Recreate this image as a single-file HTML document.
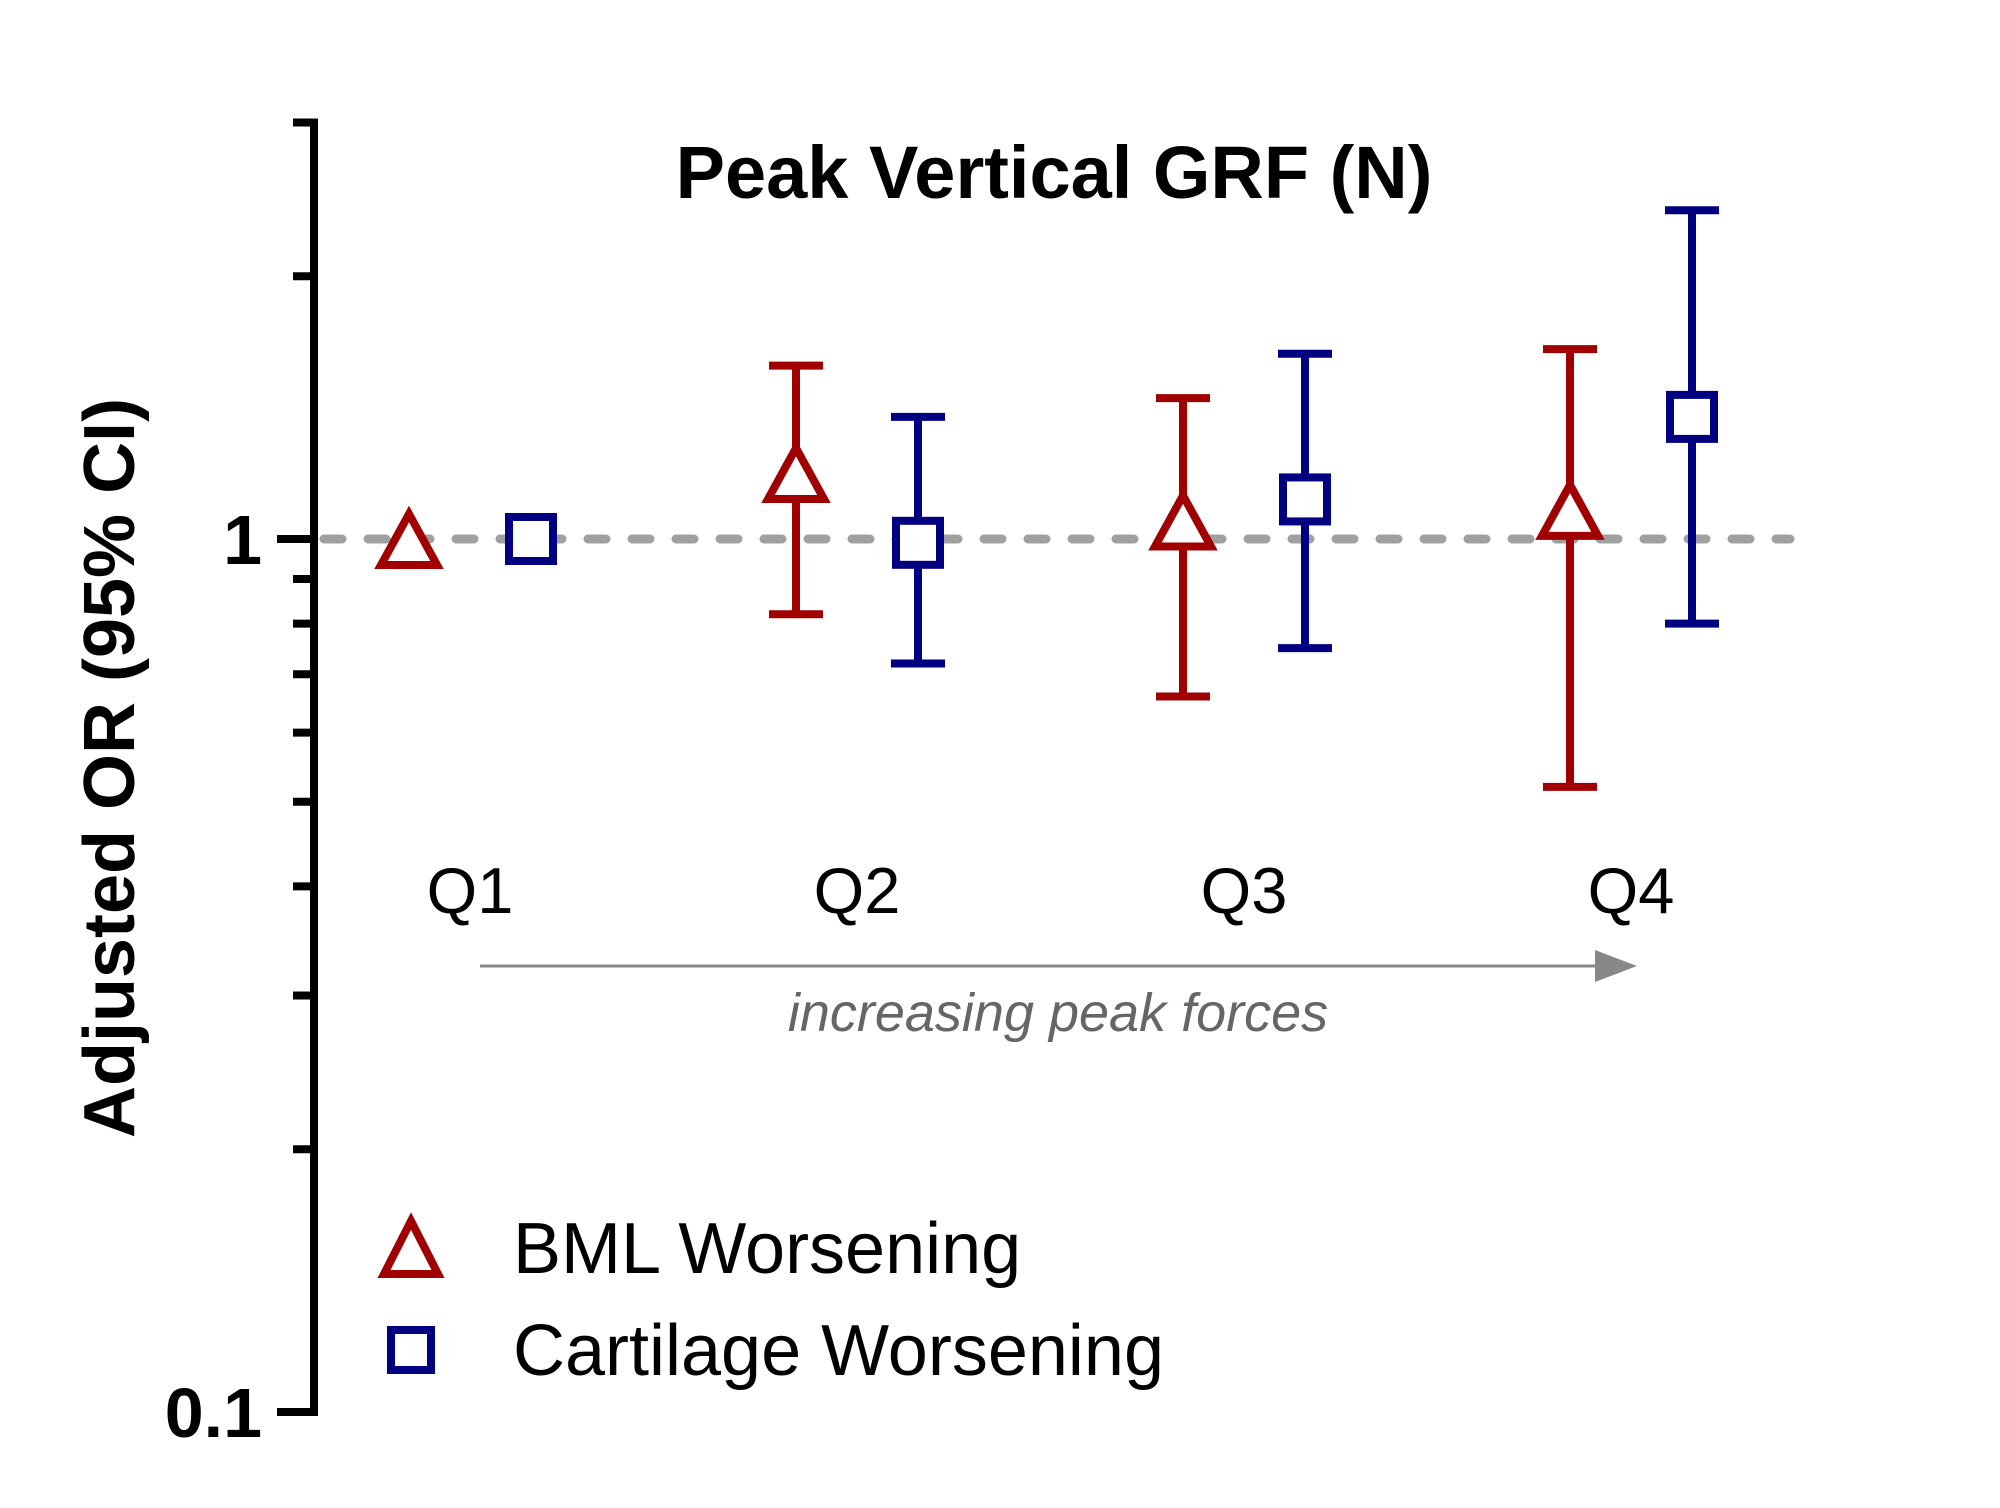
<!DOCTYPE html>
<html><head><meta charset="utf-8"><style>
html,body{margin:0;padding:0;background:#fff;}
svg{display:block;}
text{font-family:"Liberation Sans",Arial,sans-serif;}
</style></head><body>
<svg id="chart" width="2000" height="1508" viewBox="0 0 2000 1508" xmlns="http://www.w3.org/2000/svg">
<text x="1054" y="198" font-size="74" font-weight="bold" text-anchor="middle">Peak Vertical GRF (N)</text>
<text transform="translate(134,768) rotate(-90)" font-size="72" font-weight="bold" text-anchor="middle">Adjusted OR (95% CI)</text>
<g id="axis"></g>
<g id="marks"></g>
<line x1="480" y1="966" x2="1600" y2="966" stroke="#888" stroke-width="3"/>
<polygon points="1595,950 1637,966 1595,982" fill="#888"/>
<text x="1058" y="1031" font-size="54" font-style="italic" fill="#666" text-anchor="middle">increasing peak forces</text>
<g>
  <polygon points="411,1221 438,1274 384,1274" fill="#fff" stroke="#a00000" stroke-width="8"/>
  <text x="513" y="1273" font-size="72">BML Worsening</text>
  <rect x="391" y="1330" width="40" height="40" fill="#fff" stroke="#000080" stroke-width="8"/>
  <text x="513" y="1375" font-size="72">Cartilage Worsening</text>
</g>
</svg>
<script>
const categories = ["Q1","Q2","Q3","Q4"];
const bmlOR = [1.0, 1.19, 1.05, 1.08];
const bmlLow = [null, 0.82, 0.66, 0.52];
const bmlHigh = [null, 1.58, 1.45, 1.65];
const cartOR = [1.0, 0.99, 1.11, 1.38];
const cartLow = [null, 0.72, 0.75, 0.80];
const cartHigh = [null, 1.38, 1.63, 2.38];
const majorTicks = [0.1, 1];
const majorLabels = ["0.1","1"];
const minorTicks = [0.2,0.3,0.4,0.5,0.6,0.7,0.8,0.9,2,3];

const NS = "http://www.w3.org/2000/svg";
const y = v => 539 - 873 * Math.log10(v);
const xCenter = i => 470 + 387 * i;
const axisX = 314;
function mk(tag, attrs, parent){const e=document.createElementNS(NS,tag);for(const k in attrs)e.setAttribute(k,attrs[k]);parent.appendChild(e);return e;}
const axis = document.getElementById('axis');
const marks = document.getElementById('marks');

let ref = mk('line',{x1:axisX+10,y1:y(1),x2:1790,y2:y(1),stroke:'#a0a0a0','stroke-width':9,'stroke-dasharray':'18 26','stroke-linecap':'round'},marks);



let al = mk('line',{x1:axisX,y1:y(3)-4,x2:axisX,y2:y(0.1)+4,stroke:'#000','stroke-width':8},axis);


majorTicks.forEach((v,i)=>{
  const t = mk('line',{x1:277,y1:y(v),x2:axisX,y2:y(v),stroke:'#000','stroke-width':8},axis);
  
  
  const l = mk('text',{x:262,y:y(v)+25,'font-size':70,'font-weight':'bold','text-anchor':'end'},axis);
  l.textContent = majorLabels[i];
  
  
});
minorTicks.forEach(v=>{
  const t = mk('line',{x1:293,y1:y(v),x2:axisX,y2:y(v),stroke:'#000','stroke-width':8},axis);
  
  
});

function errBar(x, lo, hi, color){
  const g = mk('g',{},marks);
  
  
  mk('line',{x1:x,y1:y(hi),x2:x,y2:y(lo),stroke:color,'stroke-width':8},g);
  mk('line',{x1:x-27,y1:y(hi),x2:x+27,y2:y(hi),stroke:color,'stroke-width':8},g);
  mk('line',{x1:x-27,y1:y(lo),x2:x+27,y2:y(lo),stroke:color,'stroke-width':8},g);
}
categories.forEach((c,i)=>{
  const xr = xCenter(i) - 61, xb = xCenter(i) + 61;
  if (bmlLow[i] !== null) errBar(xr, bmlLow[i], bmlHigh[i], '#a00000');
  if (cartLow[i] !== null) errBar(xb, cartLow[i], cartHigh[i], '#000080');
  const yr = y(bmlOR[i]);
  const tri = mk('polygon',{points:`${xr},${yr-25} ${xr+28},${yr+26} ${xr-28},${yr+26}`,fill:'#fff',stroke:'#a00000','stroke-width':8,'stroke-linejoin':'miter'},marks);
  
  
  const yb = y(cartOR[i]);
  const sq = mk('rect',{x:xb-22,y:yb-22,width:44,height:44,fill:'#fff',stroke:'#000080','stroke-width':8},marks);
  
  
  const lab = mk('text',{x:xCenter(i),y:913,'font-size':65,'text-anchor':'middle'},marks);
  lab.textContent = c;
  
  
});
</script>
</body></html>
